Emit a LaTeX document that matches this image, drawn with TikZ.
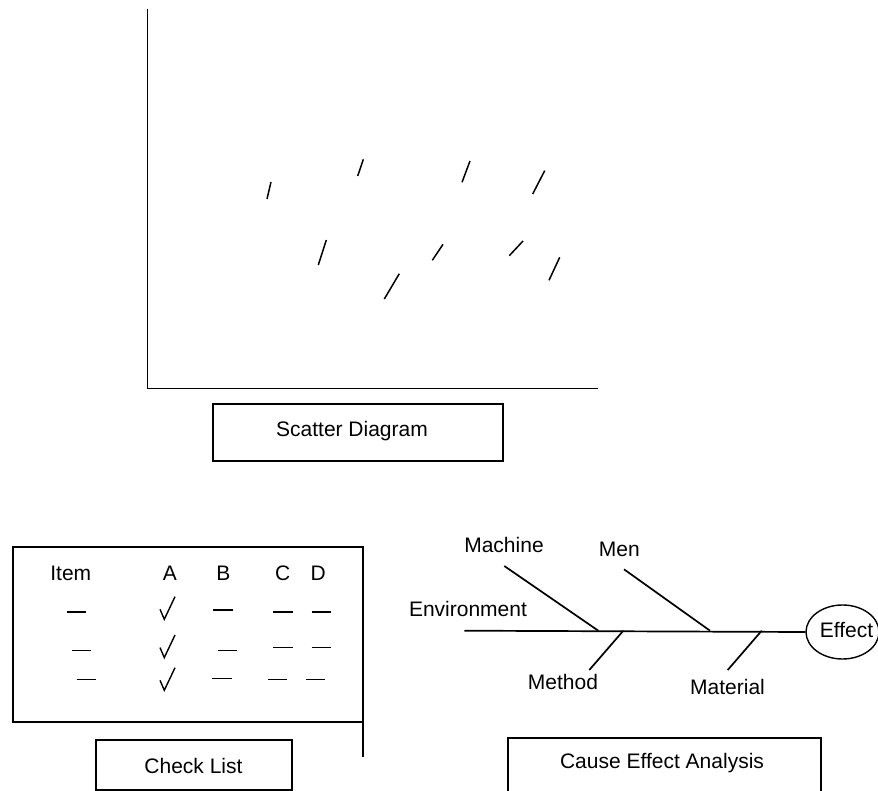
\documentclass[tikz,border=0pt]{standalone}
\usepackage{fontspec}
\setmainfont{Liberation Sans}
\usetikzlibrary{shapes.geometric}
\begin{document}
\begin{tikzpicture}[x=1pt,y=-1pt,
  every node/.style={font=\fontsize{21}{25}\selectfont, inner sep=0pt},
  ln/.style={line width=1.7pt, line cap=butt},
  scatterstroke/.style={line width=1.5pt},
  dashmark/.style={line width=1.5pt},
  tickmark/.style={line width=1.4pt, line join=miter},
  box/.style={draw, line width=1.7pt, rectangle},
  lbl/.style={anchor=center}]
\useasboundingbox (0,0) rectangle (878,791);
% ---------- Scatter diagram ----------
\coordinate (ytop) at (147.5,9);
\coordinate (orig) at (147.5,388.5);
\coordinate (xend) at (597.5,388.5);
\draw[ln] (ytop) -- (orig) -- (xend);
\foreach \a/\b/\c/\d in {267/199/271/182, 357.7/176/363.3/159.3, 462/182.3/470/161,
  532.7/194/544.7/170.7, 318.3/265/326.3/240, 432.3/260.3/443/244.3,
  509.3/255.7/523/241, 549/280.3/559.7/257.3, 384.3/299/399.3/273.7}
  \draw[scatterstroke] (\a,\b) -- (\c,\d);
\node[box, minimum width=290pt, minimum height=57pt] (sd) at (358.3,432.5) {};
\node[lbl] (sdt) at (352,431) {Scatter Diagram};
% ---------- Check list ----------
\draw[ln] (12.7,547.3) rectangle (362.7,721.7);
\coordinate (cla) at (362.7,721.7);
\coordinate (clb) at (362.7,756.5);
\draw[ln] (cla) -- (clb);
\node[lbl] (hI) at (70.8,573) {Item};
\node[lbl] (hA) at (170,573) {A};
\node[lbl] (hB) at (223.3,573) {B};
\node[lbl] (hC) at (282.7,573) {C};
\node[lbl] (hD) at (318.3,573) {D};
\foreach \x/\y in {66.7/612, 213.3/610, 273.3/612, 311.7/612,
  71.7/650.7, 217.7/650.7, 273.3/647.7, 311.7/647.7,
  76.7/679.3, 212.3/678.3, 267.7/679.3, 306/679.3}
  \draw[dashmark] (\x,\y) -- ++(19.3,0);
\foreach \y in {0, 38.3, 71}
  \draw[tickmark] (160,609.3+\y) -- (164.3,619.3+\y) -- (175,596.7+\y);
\node[box, minimum width=196pt, minimum height=50pt] (cl) at (193.8,765) {};
\node[lbl] (clt) at (193.5,766) {Check List};
% ---------- Cause effect ----------
\node[draw, ellipse, line width=1.4pt, minimum width=73pt, minimum height=54pt] (eff) at (842.5,632) {};
\node[lbl] (efft) at (846.5,630) {Effect};
\coordinate (sp0) at (464.3,630.7);
\draw[ln] (sp0) -- (eff.west);
\coordinate (m1a) at (504.3,566);   \coordinate (m1b) at (598.3,630.7);
\coordinate (m2a) at (624,569.3);   \coordinate (m2b) at (710,630.7);
\coordinate (m3a) at (623.3,630.7); \coordinate (m3b) at (589.3,670);
\coordinate (m4a) at (761.7,630.7); \coordinate (m4b) at (727.7,670);
\draw[ln] (m1a) -- (m1b);
\draw[ln] (m2a) -- (m2b);
\draw[ln] (m3a) -- (m3b);
\draw[ln] (m4a) -- (m4b);
\node[lbl] (lmach) at (504,545) {Machine};
\node[lbl] (lmen) at (619.3,549.3) {Men};
\node[lbl] (lenv) at (468,609) {Environment};
\node[lbl] (lmeth) at (563,682) {Method};
\node[lbl] (lmat) at (727.5,687) {Material};
\node[box, minimum width=312.4pt, minimum height=60pt] (ce) at (664.5,768.3) {};
\node[lbl] (cet) at (662,763.3) {Cause Effect Analysis};
\end{tikzpicture}
\end{document}
